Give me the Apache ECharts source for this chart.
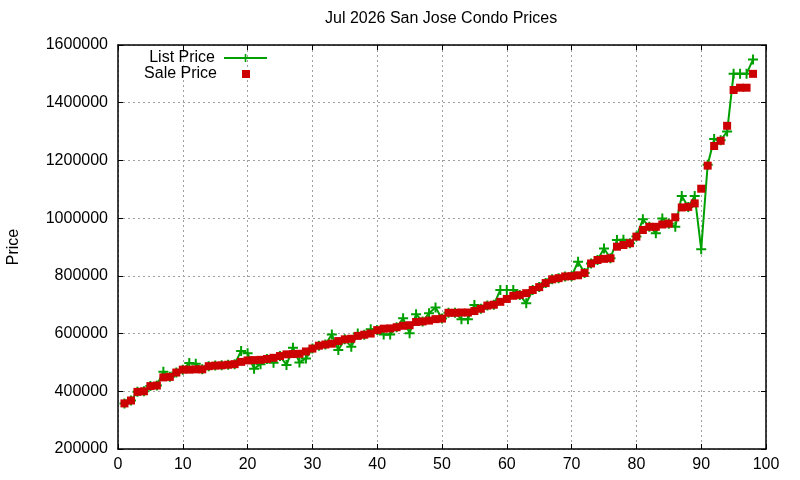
<!DOCTYPE html>
<html>
<head>
    <meta charset="utf-8" />
    <title>Jul 2026 San Jose Condo Prices</title>
    <script src="https://cdn.jsdelivr.net/npm/echarts@6/dist/echarts.min.js"></script>
    <style>
        html, body { margin: 0; padding: 0; background: #fff; }
        #main { width: 800px; height: 480px; }
    </style>
</head>
<body>
<div id="main"></div>
<script type="text/javascript">
    // rank of each condo sale (x axis)
    var rank = [1,2,3,4,5,6,7,8,9,10,11,12,13,14,15,16,17,18,19,20,
        21,22,23,24,25,26,27,28,29,30,31,32,33,34,35,36,37,38,39,40,
        41,42,43,44,45,46,47,48,49,50,51,52,53,54,55,56,57,58,59,60,
        61,62,63,64,65,66,67,68,69,70,71,72,73,74,75,76,77,78,79,80,
        81,82,83,84,85,86,87,88,89,90,91,92,93,94,95,96,97,98];

    var salePrice = [358000,368000,398000,400000,418000,420000,448000,450000,465000,475000,
        475000,476000,476000,487000,489000,490000,492000,494000,502000,507000,
        508000,509000,512000,516000,522000,528000,529000,530000,538000,548000,
        558000,562000,565000,574000,580000,582000,592000,596000,600000,612000,
        617000,618000,622000,627000,629000,640000,642000,645000,650000,652000,
        672000,672000,673000,673000,678000,686000,697000,700000,710000,720000,
        731000,734000,740000,751000,761000,775000,788000,792000,798000,799000,
        802000,810000,843000,855000,859000,861000,901000,907000,913000,936000,
        959000,970000,970000,978000,981000,1003000,1037000,1039000,1051000,1102000,
        1182000,1250000,1268000,1320000,1444000,1452000,1452000,1500000];

    var listPrice = [358000,368000,398000,400000,418000,420000,468000,450000,465000,475000,
        498000,495000,476000,487000,489000,490000,492000,494000,540000,532000,
        478000,494000,512000,499000,522000,491000,551000,500000,514000,548000,
        558000,562000,597000,543000,580000,554000,600000,596000,615000,612000,
        597000,597000,622000,653000,601000,667000,642000,670000,690000,652000,
        672000,672000,650000,650000,699000,686000,697000,700000,751000,751000,
        751000,734000,705000,751000,761000,775000,788000,792000,798000,799000,
        849000,810000,843000,855000,895000,861000,924000,925000,913000,936000,
        996000,970000,948000,999000,981000,970000,1077000,1039000,1077000,892000,
        1185000,1274000,1270000,1300000,1500000,1500000,1500000,1550000];

    var seriesNames = ['List Price', 'Sale Price'];
    var titleText = 'Jul 2026 San Jose Condo Prices';
    var yName = 'Price';

    var FONT = 'Liberation Sans, Arial, sans-serif';
    var GREEN = '#00a000';
    var RED = '#cc0000';
    var PLUS = 'path://M4,0H6V4H10V6H6V10H4V6H0V4H4Z';

    var listData = [], saleData = [];
    for (var i = 0; i < rank.length; i++) {
        listData.push([rank[i], listPrice[i]]);
        saleData.push([rank[i], salePrice[i]]);
    }

    var gridLine = { show: true, lineStyle: { color: '#a0a0a0', width: 1, type: [2, 3] } };
    var blackLine = { show: true, onZero: false, lineStyle: { color: '#000', width: 1.5 } };
    var tickIn = { show: true, inside: true, length: 5, lineStyle: { color: '#000', width: 1 } };

    var myChart = echarts.init(document.getElementById('main'));
    myChart.setOption({
        animation: false,
        textStyle: { fontFamily: FONT },
        title: {
            text: titleText,
            left: 325,
            top: 11,
            padding: 0,
            textStyle: { fontFamily: FONT, fontSize: 16, fontWeight: 'normal', color: '#000' }
        },
        legend: [{
            data: [seriesNames[0]],
            right: 532,
            top: 50,
            padding: 0,
            align: 'right',
            itemWidth: 43,
            itemHeight: 10,
            selectedMode: false,
            textStyle: { fontFamily: FONT, fontSize: 16, color: '#000', padding: [0, 4, 0, 0] }
        }, {
            data: [seriesNames[1]],
            right: 550,
            top: 66,
            padding: 0,
            align: 'right',
            itemWidth: 8,
            itemHeight: 8,
            selectedMode: false,
            textStyle: { fontFamily: FONT, fontSize: 16, color: '#000', padding: [0, 20, 0, 0] }
        }],
        grid: { left: 118, right: 34, top: 45, bottom: 31, outerBoundsMode: 'none', containLabel: false },
        xAxis: [{
            type: 'value', min: 0, max: 100, interval: 10, position: 'bottom',
            axisLine: blackLine, axisTick: tickIn,
            axisLabel: { color: '#000', fontFamily: FONT, fontSize: 16, margin: 8 },
            splitLine: gridLine
        }, {
            type: 'value', min: 0, max: 100, interval: 10, position: 'top',
            axisLine: blackLine, axisTick: tickIn,
            axisLabel: { show: false }, splitLine: { show: false }
        }],
        yAxis: [{
            type: 'value', min: 200000, max: 1600000, interval: 200000, position: 'left',
            name: yName, nameLocation: 'middle', nameGap: 96,
            nameTextStyle: { color: '#000', fontFamily: FONT, fontSize: 16 },
            axisLine: blackLine, axisTick: tickIn,
            axisLabel: {
                color: '#000', fontFamily: FONT, fontSize: 16, margin: 10,
                formatter: function (v) { return String(v); }
            },
            splitLine: gridLine
        }, {
            type: 'value', min: 200000, max: 1600000, interval: 200000, position: 'right',
            axisLine: blackLine, axisTick: tickIn,
            axisLabel: { show: false }, splitLine: { show: false }
        }],
        series: [{
            name: seriesNames[0],
            type: 'line',
            data: listData,
            symbol: PLUS,
            symbolSize: 10,
            showAllSymbol: true,
            lineStyle: { color: GREEN, width: 2 },
            itemStyle: { color: GREEN, opacity: 1 },
            emphasis: { disabled: true },
            z: 2
        }, {
            name: seriesNames[1],
            type: 'scatter',
            data: saleData,
            symbol: 'rect',
            symbolSize: 8,
            itemStyle: { color: RED, opacity: 1 },
            emphasis: { disabled: true },
            z: 3
        }]
    });
</script>
</body>
</html>
